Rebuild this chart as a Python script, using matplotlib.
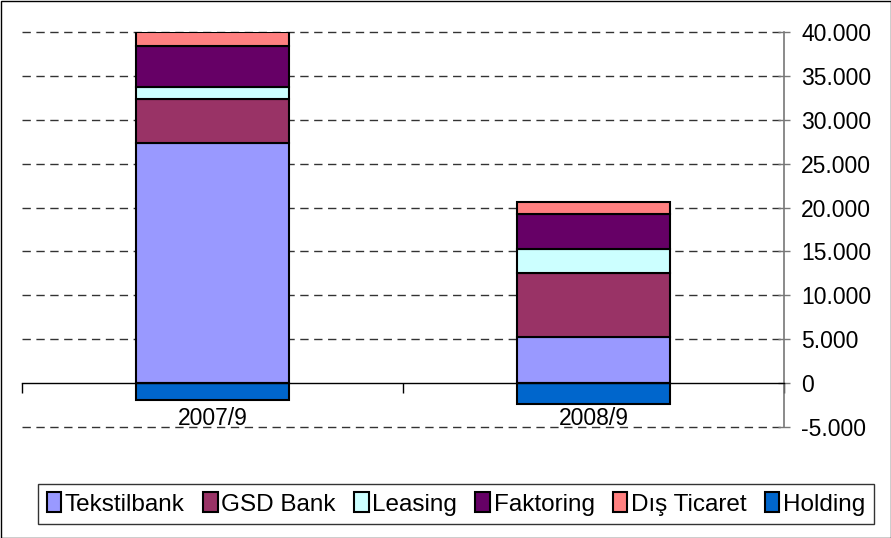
import matplotlib
matplotlib.use("Agg")
import matplotlib.pyplot as plt
from matplotlib.patches import Rectangle
from matplotlib.ticker import FuncFormatter, FixedLocator
import numpy as np

plt.rcParams['font.family'] = ['Liberation Sans', 'DejaVu Sans']

categories = ["2007/9", "2008/9"]
series_names = ["Tekstilbank", "GSD Bank", "Leasing", "Faktoring", "Dış Ticaret", "Holding"]
tekstilbank = [27300, 5200]
gsd_bank = [5100, 7300]
leasing = [1300, 2800]
faktoring = [4700, 4000]
dis_ticaret = [1600, 1300]
holding = [-1900, -2400]
colors = ["#9999FF", "#993366", "#CCFFFF", "#660066", "#FF8080", "#0066CC"]
yticks = list(range(-5000, 40001, 5000))

fig = plt.figure(figsize=(8.91, 5.38), dpi=100)
ax = fig.add_axes([22/891, 1-427/538, (784-22)/891, (427-32)/538])

x = np.arange(len(categories))
w = 0.4
bottom = np.zeros(len(categories))
pos_series = [tekstilbank, gsd_bank, leasing, faktoring, dis_ticaret]
handles = []
for vals, c, name in zip(pos_series, colors[:5], series_names[:5]):
    h = ax.bar(x, vals, w, bottom=bottom, color=c, edgecolor='black', linewidth=1.5, label=name, zorder=3)
    handles.append(h)
    bottom += np.array(vals)
h = ax.bar(x, holding, w, color=colors[5], edgecolor='black', linewidth=1.5, label=series_names[5], zorder=3)
handles.append(h)

ax.set_xlim(-0.5, 1.5)
ax.set_ylim(-5000, 40000)

# gridlines (dashed), excluding zero
for t in yticks:
    if t != 0:
        ax.axhline(t, color='#333333', linestyle=(0, (6, 4)), linewidth=1.0, zorder=1, clip_on=False)

# y axis on right
ax.yaxis.tick_right()
ax.set_yticks(yticks)
ax.yaxis.set_major_formatter(FuncFormatter(lambda v, p: "0" if v == 0 else f"{int(v):,}".replace(",", ".")))
ax.tick_params(axis='y', direction='inout', length=9, width=1, color='#777777', labelsize=16.5, pad=8)

for s in ['top', 'left']:
    ax.spines[s].set_visible(False)
ax.spines['right'].set_color('#777777')
ax.spines['right'].set_linewidth(1.2)
ax.spines['bottom'].set_position(('data', 0))
ax.spines['bottom'].set_color('black')
ax.spines['bottom'].set_linewidth(1.0)
ax.spines['bottom'].set_zorder(4)

ax.set_xticks(x)
ax.set_xticklabels(categories)
ax.tick_params(axis='x', which='major', length=0, labelsize=16.5, pad=17)
ax.xaxis.set_minor_locator(FixedLocator([-0.5, 0.5, 1.5]))
ax.tick_params(axis='x', which='minor', length=7, width=1, color='black', direction='out')

leg = fig.legend(handles=handles, labels=series_names, loc='center',
                 bbox_to_anchor=(456/891, 1-504/538), ncol=6, fontsize=17.5,
                 frameon=True, fancybox=False, edgecolor='black',
                 handlelength=0.6, handleheight=0.9, handletextpad=0.15,
                 columnspacing=0.75, borderpad=0.35, borderaxespad=0)
leg.get_frame().set_linewidth(1.0)

fig.patches.append(Rectangle((0.5/891, 0.5/538), 1-1/891, 1-1/538, transform=fig.transFigure,
                             fill=False, edgecolor='black', linewidth=1.0))

fig.savefig("out.png", dpi=100)
